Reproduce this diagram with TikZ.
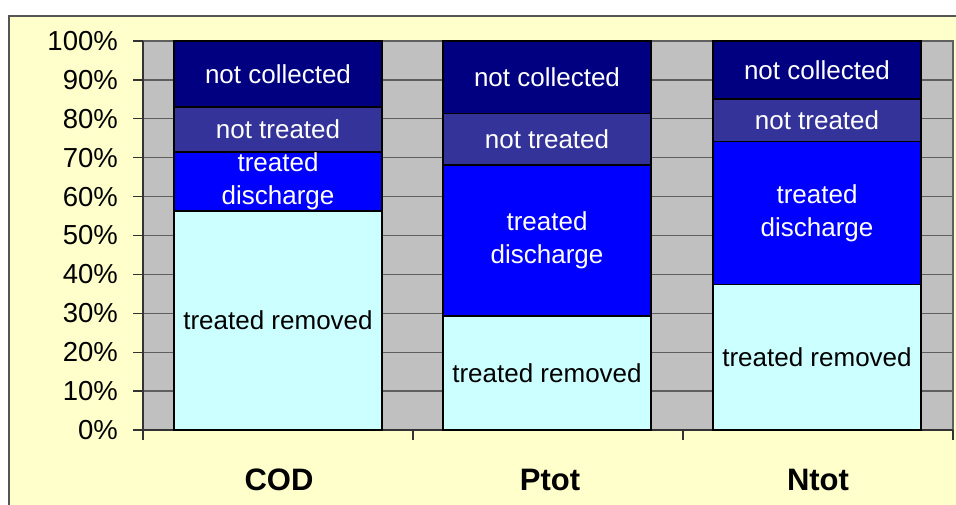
\documentclass[tikz,border=0pt]{standalone}
\usepackage{fontspec}
\setmainfont{Liberation Sans}
\definecolor{chartbg}{HTML}{FFFFCC}
\definecolor{plotbg}{HTML}{C0C0C0}
\definecolor{gridc}{HTML}{5F5F5F}
\definecolor{framec}{HTML}{555555}
\definecolor{notcoll}{HTML}{000080}
\definecolor{nottreat}{HTML}{333399}
\definecolor{treatdis}{HTML}{0000FF}
\definecolor{treatrem}{HTML}{CCFFFF}
\tikzset{
  seg/.style={draw=black, line width=1.6pt},
  lbl/.style={inner sep=0pt, align=center, font=\fontsize{26}{33}\selectfont},
  wlbl/.style={lbl, text=white},
  ticklbl/.style={inner sep=0pt, anchor=east, font=\fontsize{27.5}{30}\selectfont},
  catlbl/.style={inner sep=0pt, font=\fontsize{31}{33}\selectfont\bfseries},
  gridline/.style={draw=gridc, line width=1.3pt},
  axisline/.style={draw=black!80, line width=1.3pt}
}
% vertical position (px from top) of a percentage value
\newcommand{\yp}[1]{430-3.89*#1}
\begin{document}
\begin{tikzpicture}[x=1pt,y=-1pt]
\useasboundingbox (0,0) rectangle (956,505);
\clip (0,0) rectangle (956,505);
\fill[white] (0,0) rectangle (956,505);
% chart area
\filldraw[fill=chartbg, draw=framec, line width=1.5pt] (9,16) rectangle (990,540);
% plot area
\filldraw[fill=plotbg, draw=gridc, line width=1.3pt] (143,41) rectangle (953,430);
% horizontal gridlines, ticks and labels
\foreach \p in {0,10,...,100} {
  \draw[gridline] (143,{\yp{\p}}) -- (953,{\yp{\p}});
  \draw[axisline] (133,{\yp{\p}}) -- (143,{\yp{\p}});
  \node[ticklbl] (tick\p) at (118,{\yp{\p}}) {\p\%};
}
% axes
\draw[axisline] (143,41) -- (143,440);
\draw[axisline] (143,430) -- (953,430);
\foreach \x in {143,413,683,953} \draw[axisline] (\x,430) -- (\x,440);
% stacked bars: centre x, tops of removed / discharge / not treated
\foreach \cx/\a/\b/\c/\nm in {278/56.3/71.5/83.0/cod, 547/29.3/68.2/81.4/ptot, 817/37.4/74.2/85.1/ntot} {
  \filldraw[seg, fill=treatrem] ({\cx-104},{\yp{0}}) rectangle ({\cx+104},{\yp{\a}});
  \filldraw[seg, fill=treatdis] ({\cx-104},{\yp{\a}}) rectangle ({\cx+104},{\yp{\b}});
  \filldraw[seg, fill=nottreat] ({\cx-104},{\yp{\b}}) rectangle ({\cx+104},{\yp{\c}});
  \filldraw[seg, fill=notcoll] ({\cx-104},{\yp{\c}}) rectangle ({\cx+104},{\yp{100}});
  \node[lbl] (\nm-rem) at (\cx,{\yp{\a/2}}) {treated removed};
  \node[wlbl] (\nm-dis) at (\cx,{\yp{(\a+\b)/2}}) {treated\\discharge};
  \node[wlbl] (\nm-nt) at (\cx,{\yp{(\b+\c)/2}}) {not treated};
  \node[wlbl] (\nm-nc) at (\cx,{\yp{(\c+100)/2}}) {not collected};
}
% category labels
\node[catlbl] (cat-cod) at (279,480) {COD};
\node[catlbl] (cat-ptot) at (550,480) {Ptot};
\node[catlbl] (cat-ntot) at (818,480) {Ntot};
\end{tikzpicture}
\end{document}
